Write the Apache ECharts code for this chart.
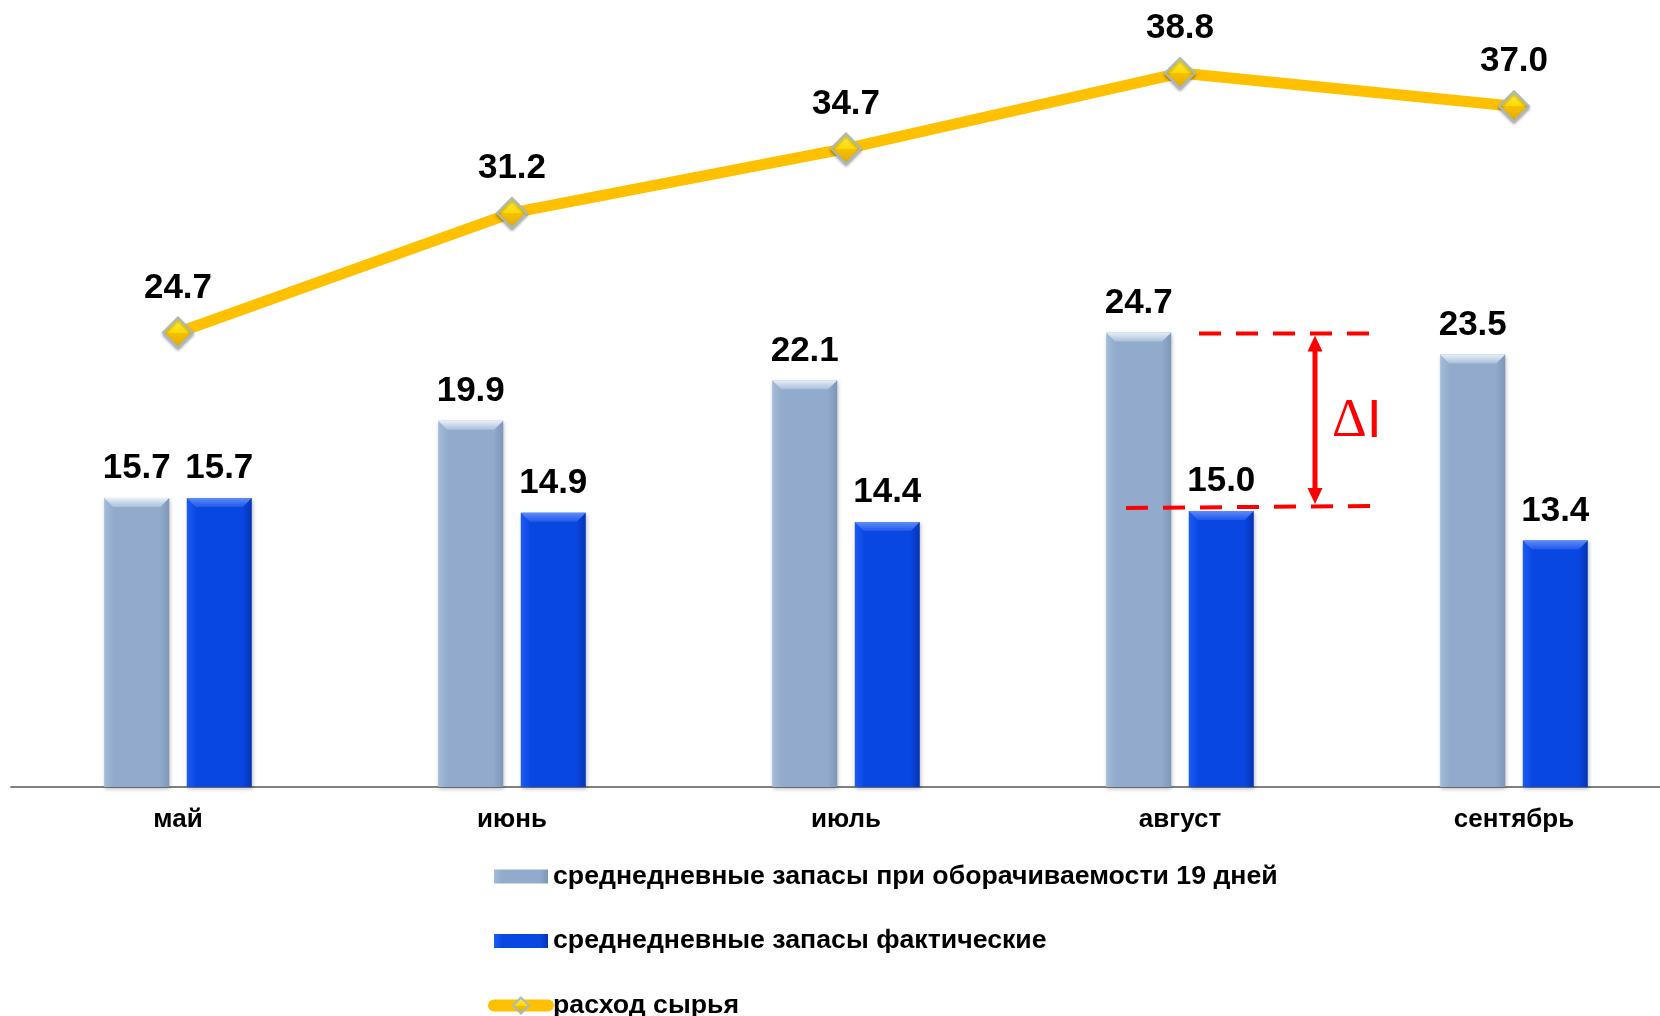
<!DOCTYPE html>
<html>
<head>
<meta charset="utf-8">
<script src="https://cdn.jsdelivr.net/npm/echarts@6/dist/echarts.min.js"></script>
<style>
html,body{margin:0;padding:0;background:#fff;}
#chart{width:1660px;height:1016px;}
</style>
</head>
<body>
<div id="chart"></div>
<script>
var categories = ['май', 'июнь', 'июль', 'август', 'сентябрь'];
var normStock = [15.7, 19.9, 22.1, 24.7, 23.5];
var actualStock = [15.7, 14.9, 14.4, 15.0, 13.4];
var consumption = [24.7, 31.2, 34.7, 38.8, 37.0];
var seriesNames = [
  'среднедневные запасы при оборачиваемости 19 дней',
  'среднедневные запасы фактические',
  'расход сырья'
];
var annotIndex = 3;

var FONT = '"Liberation Sans", Arial, Helvetica, sans-serif';
var BAR_W = 65;
var BAR_OFF = 41.3;

var chart = echarts.init(document.getElementById('chart'), null, {renderer: 'canvas'});

function hGrad(a, b, c) {
  return new echarts.graphic.LinearGradient(0, 0, 1, 0, [
    {offset: 0, color: a}, {offset: 0.15, color: b}, {offset: 0.85, color: b}, {offset: 1, color: c}
  ]);
}

var barLabel = {
  show: true, position: 'top', distance: 12,
  fontFamily: FONT, fontWeight: 'bold', fontSize: 35, color: '#000',
  formatter: function (p) { return p.value.toFixed(1); }
};

function bevelSeries(values, offset, c1, c2) {
  return {
    type: 'custom', silent: true, z: 3,
    data: values.map(function (v, i) { return [i, v]; }),
    encode: {x: 0, y: 1},
    renderItem: function (params, api) {
      var p = api.coord([api.value(0), api.value(1)]);
      var x0 = p[0] + offset - BAR_W / 2, x1 = x0 + BAR_W, y = p[1], d = 9;
      return {
        type: 'polygon',
        shape: {points: [[x0, y], [x1, y], [x1 - d, y + d], [x0 + d, y + d]]},
        style: {
          fill: new echarts.graphic.LinearGradient(0, 0, 0, 1, [
            {offset: 0, color: c1}, {offset: 1, color: c2}
          ])
        }
      };
    }
  };
}

var option = {
  backgroundColor: '#ffffff',
  animation: false,
  grid: {left: 11, width: 1670, top: 51, bottom: 229, containLabel: false, outerBoundsMode: 'none'},
  legend: {
    orient: 'vertical', left: 488, top: 863, height: 300, padding: 0,
    itemWidth: 54, itemHeight: 20, itemGap: 37.5,
    textStyle: {fontFamily: FONT, fontWeight: 'bold', fontSize: 26.7, color: '#000', lineHeight: 26},
    data: [
      {name: seriesNames[0], icon: 'path://M0,0 M0,3 L54,3 L54,17 L0,17 Z M54,20'},
      {name: seriesNames[1], icon: 'path://M0,0 M0,3 L54,3 L54,17 L0,17 Z M54,20'},
      {name: seriesNames[2], lineStyle: {width: 12, cap: 'round'}}
    ]
  },
  xAxis: {
    type: 'category', data: categories,
    axisLine: {show: true, lineStyle: {color: '#808080', width: 2}},
    axisTick: {show: false},
    axisLabel: {margin: 20, fontFamily: FONT, fontWeight: 'bold', fontSize: 26, color: '#000'},
    splitLine: {show: false}
  },
  yAxis: {type: 'value', min: 0, max: 40, show: false, splitLine: {show: false}},
  series: [
    {
      name: seriesNames[0], type: 'bar', data: normStock,
      barWidth: BAR_W, barGap: '27%',
      itemStyle: {
        color: hGrad('#a4bbd8', '#92abcc', '#7e97b8'),
        shadowBlur: 4, shadowColor: 'rgba(0,0,0,0.25)', shadowOffsetX: 1, shadowOffsetY: 2
      },
      label: barLabel, z: 2
    },
    {
      name: seriesNames[1], type: 'bar', data: actualStock,
      barWidth: BAR_W,
      itemStyle: {
        color: hGrad('#1d5cf2', '#0947e2', '#0534b4'),
        shadowBlur: 4, shadowColor: 'rgba(0,0,0,0.25)', shadowOffsetX: 1, shadowOffsetY: 2
      },
      label: barLabel, z: 2
    },
    bevelSeries(normStock, -BAR_OFF, '#e6eff8', '#a9bfd9'),
    bevelSeries(actualStock, BAR_OFF, '#5d8cf8', '#1f58ec'),
    {
      name: seriesNames[2], type: 'line', data: consumption,
      symbol: 'diamond', symbolSize: 30,
      lineStyle: {color: '#FFC000', width: 11},
      itemStyle: {
        color: new echarts.graphic.LinearGradient(0, 0, 0, 1, [
          {offset: 0, color: '#fff35a'}, {offset: 0.5, color: '#ffd800'}, {offset: 0.51, color: '#f5c000'}, {offset: 1, color: '#e8a800'}
        ]),
        borderColor: '#a9b9c2', borderWidth: 2,
        shadowBlur: 3, shadowColor: 'rgba(0,0,0,0.3)', shadowOffsetY: 2
      },
      label: {
        show: true, position: 'top', distance: 11,
        fontFamily: FONT, fontWeight: 'bold', fontSize: 35, color: '#000',
        formatter: function (p) { return p.value.toFixed(1); }
      },
      z: 5
    }
  ]
};
chart.setOption(option);

// annotation (ΔI) positioned from data through the axes
var topPt = chart.convertToPixel({gridIndex: 0}, [annotIndex, normStock[annotIndex]]);
var botPt = chart.convertToPixel({gridIndex: 0}, [annotIndex, actualStock[annotIndex]]);
var cx = topPt[0];
var yT = topPt[1] + 1;
var yB = botPt[1] - 4;
var ax = cx + 135;
var red = '#FF0000';
chart.setOption({
  graphic: [
    {type: 'line', z: 10, shape: {x1: cx + 19, y1: yT, x2: cx + 190, y2: yT},
      style: {stroke: red, lineWidth: 4, lineDash: [22, 15]}},
    {type: 'line', z: 10, shape: {x1: cx - 54, y1: yB + 1, x2: cx + 191, y2: yB - 1},
      style: {stroke: red, lineWidth: 4, lineDash: [22, 15]}},
    {type: 'line', z: 10, shape: {x1: ax, y1: yT + 12, x2: ax, y2: yB - 12},
      style: {stroke: red, lineWidth: 5}},
    {type: 'polygon', z: 10, shape: {points: [[ax, yT + 2], [ax - 7.5, yT + 18], [ax + 7.5, yT + 18]]},
      style: {fill: red}},
    {type: 'polygon', z: 10, shape: {points: [[ax, yB - 3], [ax - 7.5, yB - 19], [ax + 7.5, yB - 19]]},
      style: {fill: red}},
    {type: 'text', z: 10, x: cx + 152, y: (yT + yB) / 2 + 2,
      style: {
        text: '{d|Δ}{i|I}', verticalAlign: 'middle', align: 'left',
        rich: {
          d: {fontFamily: '"Liberation Serif", "Times New Roman", serif', fontSize: 54, fill: red, fontWeight: 'normal'},
          i: {fontFamily: FONT, fontSize: 54, fill: red, fontWeight: 'normal'}
        }
      }}
  ]
});
</script>
</body>
</html>
